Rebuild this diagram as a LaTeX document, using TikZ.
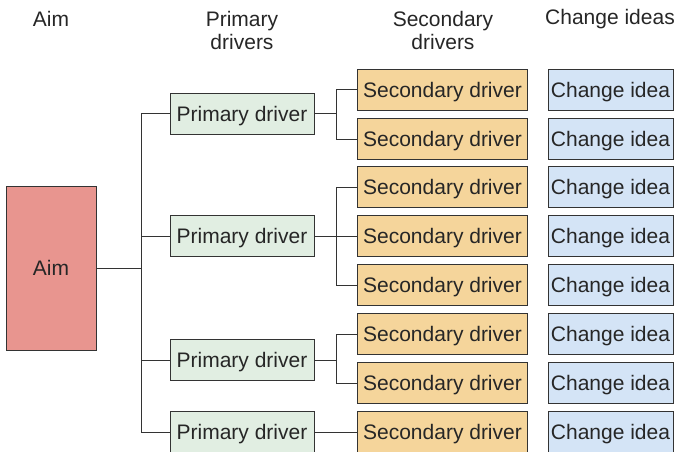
\documentclass[tikz,border=0pt]{standalone}
\usepackage{fontspec}
\setmainfont{Liberation Sans}
\usetikzlibrary{positioning,calc}

\definecolor{aimred}{HTML}{E8958F}
\definecolor{primgreen}{HTML}{E1EEE2}
\definecolor{secorange}{HTML}{F5D59B}
\definecolor{ideablue}{HTML}{D4E4F6}
\definecolor{edgegray}{HTML}{333333}

\begin{document}
\begin{tikzpicture}[x=1pt,y=-1pt,
    every node/.style={font=\fontsize{21}{21}\selectfont,text=black!85,inner sep=0pt},
    box/.style={draw=edgegray,line width=1pt,minimum height=41pt,text depth=0pt},
    aimbox/.style={box,fill=aimred,minimum width=90pt,minimum height=164pt},
    primbox/.style={box,fill=primgreen,minimum width=144pt},
    secbox/.style={box,fill=secorange,minimum width=170pt},
    ideabox/.style={box,fill=ideablue,minimum width=125pt},
    link/.style={draw=edgegray,line width=1pt},
    head/.style={align=center}]
    \useasboundingbox (0,0) rectangle (678,452);

    % column headings
    \node[head] (HA) at (51,19) {Aim};
    \node[head] (HP) at (242,30) {Primary\\[2pt]drivers};
    \node[head] (HS) at (443,30) {Secondary\\[2pt]drivers};
    \node[head] (HC) at (610,19) {Change ideas};

    \node[aimbox] (A) at (51,268) {Aim};

    \node[primbox] (P1) at (242,114) {Primary driver};
    \node[primbox] (P2) at (242,236) {Primary driver};
    \node[primbox] (P3) at (242,360) {Primary driver};
    \node[primbox] (P4) at (242,432) {Primary driver};

    \foreach \i/\y in {1/90,2/139,3/187,4/236,5/285,6/334,7/383,8/432} {
      \node[secbox] (S\i) at (442.5,\y) {Secondary driver};
      \node[ideabox] (C\i) at (610.5,\y) {Change idea};
    }

    \coordinate (T) at (141,268);
    \coordinate (B1) at (336,114);
    \coordinate (B2) at (336,236);
    \coordinate (B3) at (336,360);

    \draw[link] (A) -- (T);
    \draw[link] (T) |- (P1);
    \draw[link] (T) |- (P2);
    \draw[link] (T) |- (P3);
    \draw[link] (T) |- (P4);

    \draw[link] (P1) -- (B1);
    \draw[link] (B1) |- (S1);
    \draw[link] (B1) |- (S2);
    \draw[link] (P2) -- (S4);
    \draw[link] (B2) |- (S3);
    \draw[link] (B2) |- (S5);
    \draw[link] (P3) -- (B3);
    \draw[link] (B3) |- (S6);
    \draw[link] (B3) |- (S7);
    \draw[link] (P4) -- (S8);
  \end{tikzpicture}
\end{document}
